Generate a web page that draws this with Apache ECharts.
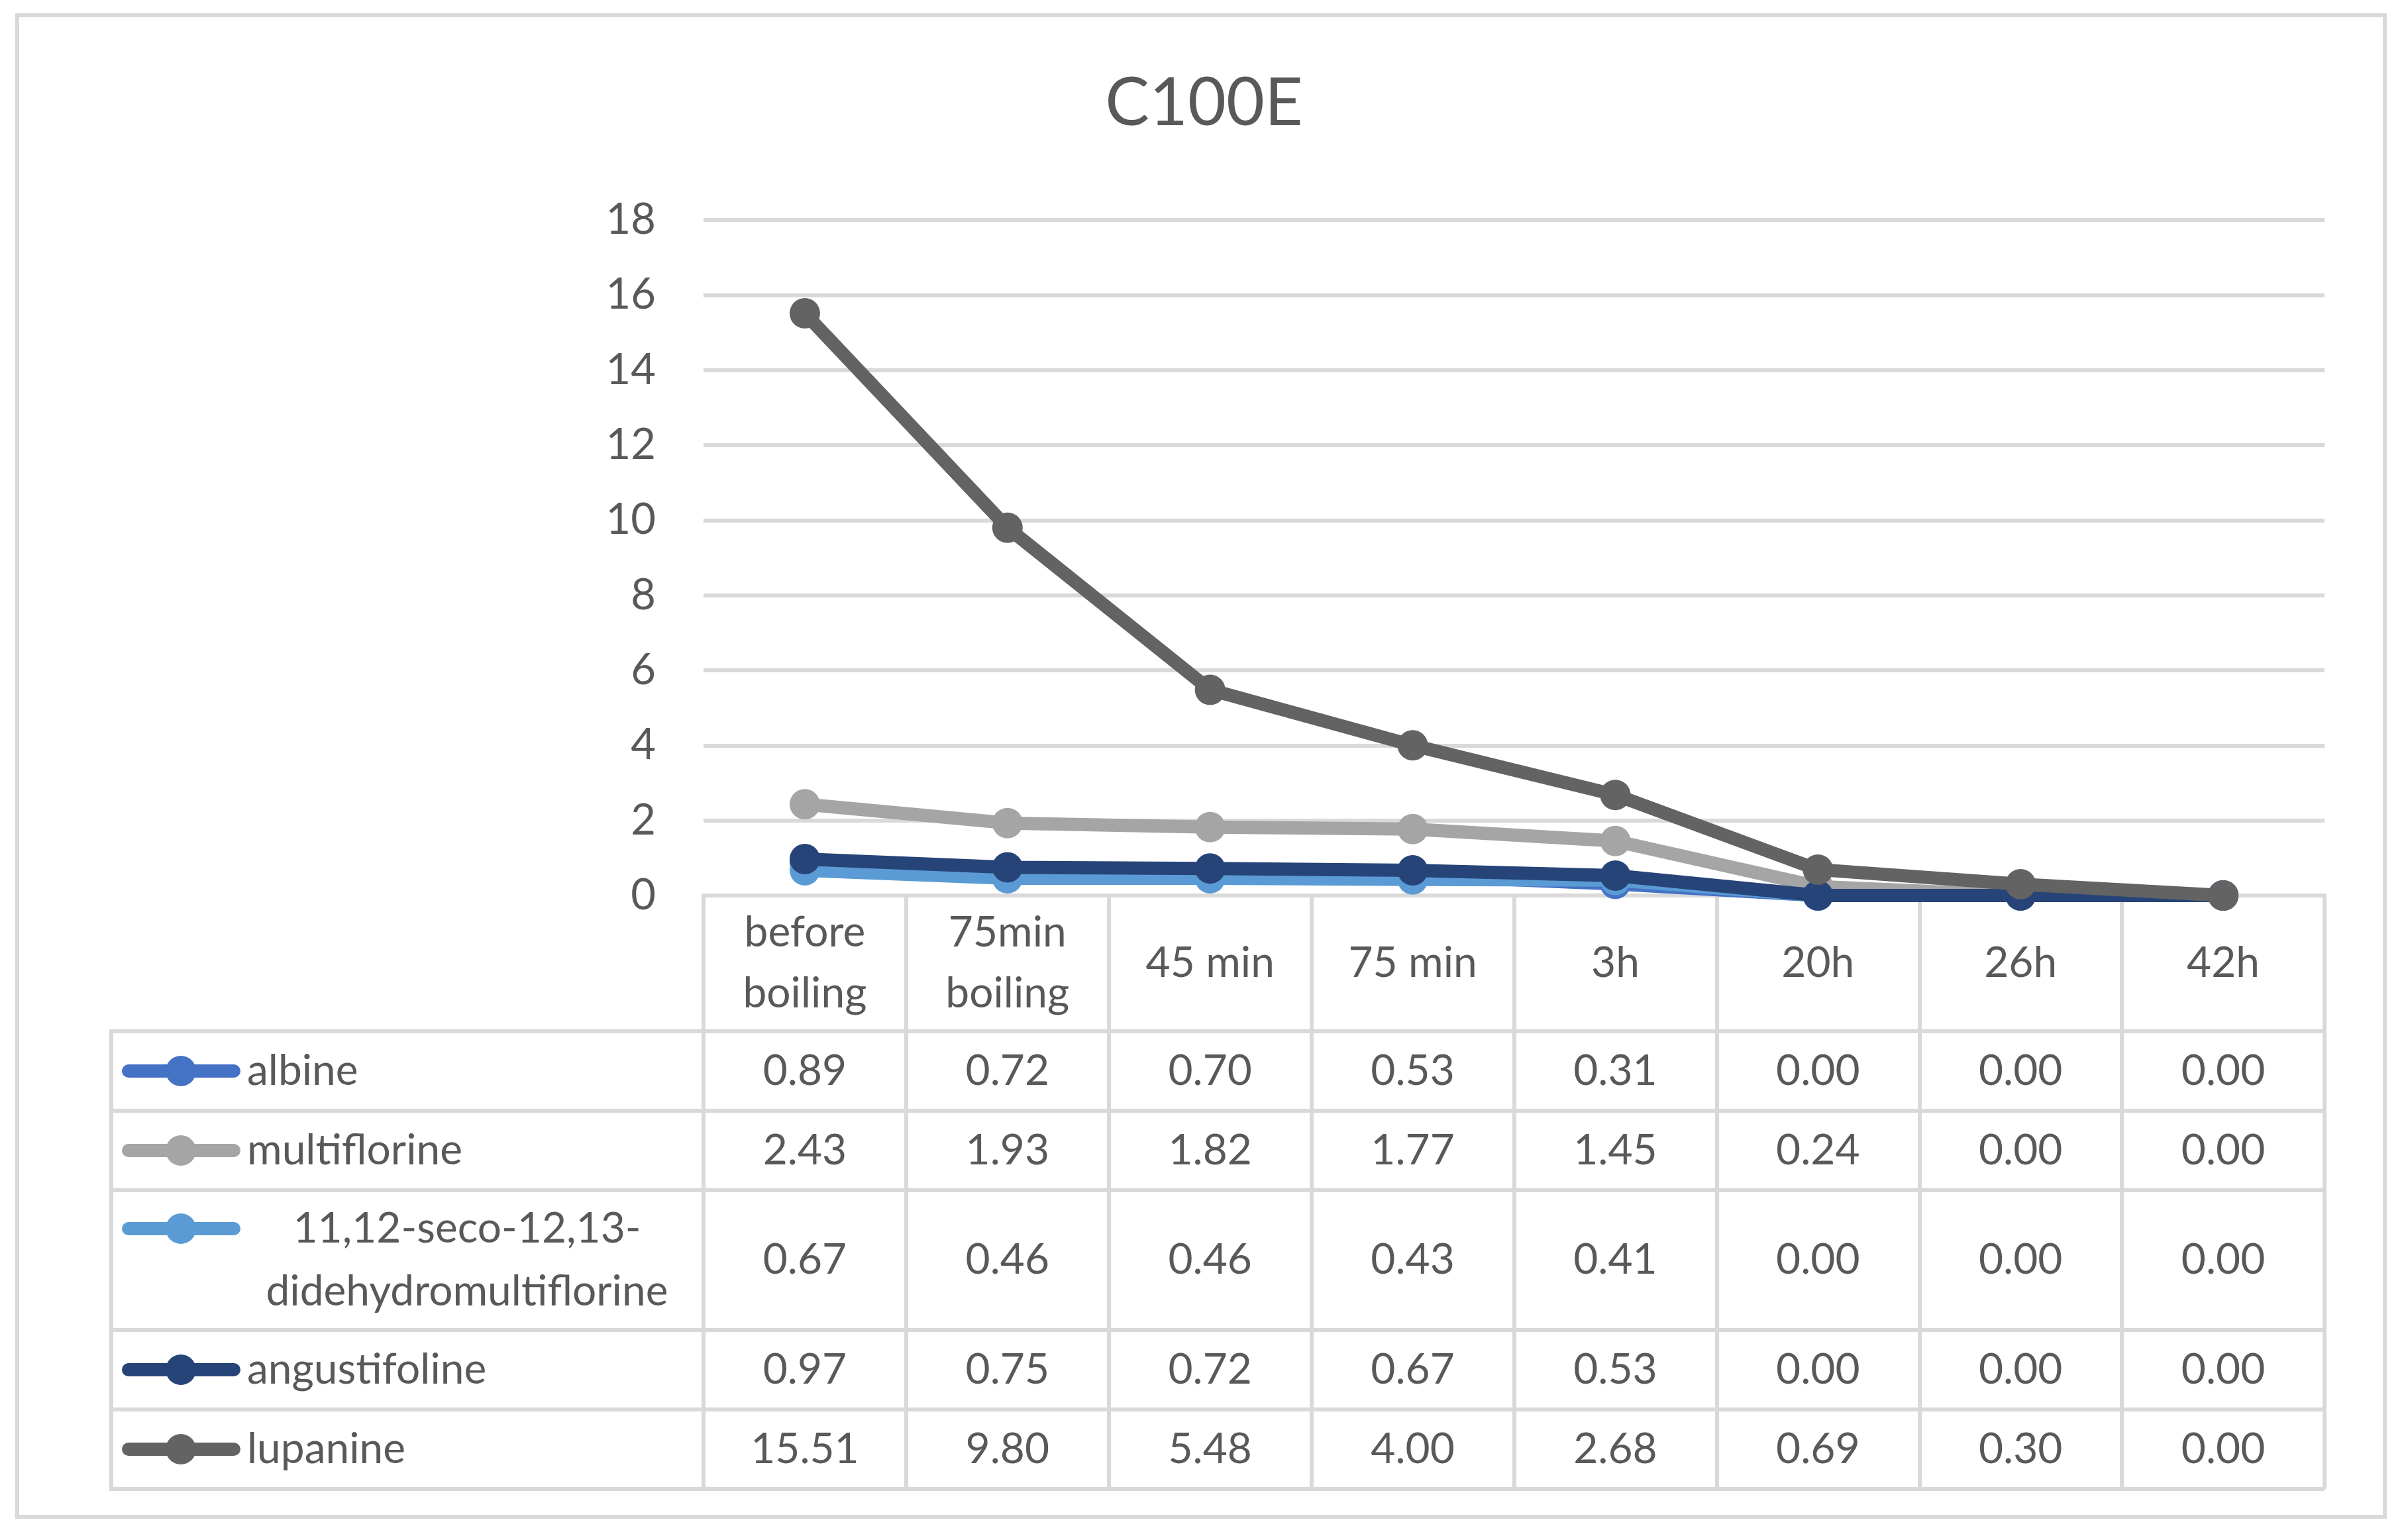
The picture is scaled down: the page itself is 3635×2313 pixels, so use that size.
<!DOCTYPE html>
<html>
<head>
<meta charset="utf-8">
<script src="https://cdn.jsdelivr.net/npm/echarts@6/dist/echarts.min.js"></script>
<style>
html,body{margin:0;padding:0;background:#fff;}
#c{width:3635px;height:2313px;}
</style>
</head>
<body>
<div id="c"></div>
<script>
// ---- data ----
const title = 'C100E';
const categories = ['before\nboiling', '75min\nboiling', '45 min', '75 min', '3h', '20h', '26h', '42h'];
const seriesNames = ['albine', 'multiflorine', '11,12-seco-12,13-\ndidehydromultiflorine', 'angustifoline', 'lupanine'];
const albine = [0.89, 0.72, 0.70, 0.53, 0.31, 0.00, 0.00, 0.00];
const multiflorine = [2.43, 1.93, 1.82, 1.77, 1.45, 0.24, 0.00, 0.00];
const seco = [0.67, 0.46, 0.46, 0.43, 0.41, 0.00, 0.00, 0.00];
const angustifoline = [0.97, 0.75, 0.72, 0.67, 0.53, 0.00, 0.00, 0.00];
const lupanine = [15.51, 9.80, 5.48, 4.00, 2.68, 0.69, 0.30, 0.00];
const yTicks = [0, 2, 4, 6, 8, 10, 12, 14, 16, 18];

// ---- style / layout ----
const seriesData = [albine, multiflorine, seco, angustifoline, lupanine];
const colors = ['#4472C4', '#A5A5A5', '#5B9BD5', '#264478', '#636363'];
const FONT = 'Lato';
const TXT = '#595959';
const GRIDC = '#D9D9D9';
const gLeft = 1062, gRightX = 3509, gTop = 332, axisY = 1352;
const headerH = 205;
const rowH = [120, 120, 211, 120, 120];
const tableLeft = 168;

const rowTops = [];
let acc = axisY + headerH;
rowH.forEach(h => { rowTops.push(acc); acc += h; });
const tableBottom = acc;

const xAxes = [{
  type: 'category',
  data: categories,
  boundaryGap: true,
  position: 'bottom',
  axisLine: { show: true, lineStyle: { color: GRIDC, width: 6 } },
  axisTick: { show: true, interval: 0, length: tableBottom - axisY, lineStyle: { color: GRIDC, width: 6 } },
  axisLabel: { interval: 0, color: TXT, fontFamily: FONT, fontSize: 64, lineHeight: 92, margin: headerH / 2, verticalAlign: 'middle' },
  splitLine: { show: false }
}];
seriesData.forEach((arr, i) => {
  xAxes.push({
    type: 'category',
    data: categories,
    boundaryGap: true,
    position: 'bottom',
    offset: rowTops[i] + rowH[i] / 2 - axisY,
    axisLine: { show: false },
    axisTick: { show: false },
    splitLine: { show: false },
    axisLabel: {
      interval: 0, color: TXT, fontFamily: FONT, fontSize: 64, margin: 0, verticalAlign: 'middle',
      formatter: (v, idx) => arr[idx].toFixed(2)
    }
  });
});

const graphics = [];
// outer border
graphics.push({ type: 'rect', shape: { x: 26, y: 23, width: 3574, height: 2267 }, style: { fill: 'none', stroke: GRIDC, lineWidth: 6 }, z: 0 });
// horizontal table lines
graphics.push({ type: 'line', shape: { x1: tableLeft, y1: axisY + headerH, x2: gRightX, y2: axisY + headerH }, style: { stroke: GRIDC, lineWidth: 6 } });
rowTops.forEach((t, i) => {
  const y = t + rowH[i];
  graphics.push({ type: 'line', shape: { x1: tableLeft, y1: y, x2: gRightX, y2: y }, style: { stroke: GRIDC, lineWidth: 6 } });
});
// left vertical
graphics.push({ type: 'line', shape: { x1: tableLeft, y1: axisY + headerH - 3, x2: tableLeft, y2: tableBottom + 3 }, style: { stroke: GRIDC, lineWidth: 6 } });
// legend keys
seriesNames.forEach((name, i) => {
  const multi = name.indexOf('\n') >= 0;
  const lh = 95;
  const yc = rowTops[i] + rowH[i] / 2;
  const iy = multi ? yc - lh / 2 : yc;
  graphics.push({ type: 'line', shape: { x1: 194, y1: iy, x2: 353, y2: iy }, style: { stroke: colors[i], lineWidth: 20, lineCap: 'round' }, z: 10 });
  graphics.push({ type: 'circle', shape: { cx: 273, cy: iy, r: 23 }, style: { fill: colors[i] }, z: 11 });
  graphics.push({
    type: 'text', z: 11,
    style: multi
      ? { text: name, x: 705, y: yc, align: 'center', verticalAlign: 'middle', fontFamily: FONT, fontSize: 64, lineHeight: lh, fill: TXT }
      : { text: name, x: 373, y: yc, align: 'left', verticalAlign: 'middle', fontFamily: FONT, fontSize: 64, fill: TXT }
  });
});

const chart = echarts.init(document.getElementById('c'));
chart.setOption({
  backgroundColor: '#fff',
  animation: false,
  title: {
    text: title, left: 'center', top: 102,
    textStyle: { color: TXT, fontFamily: FONT, fontSize: 100, fontWeight: 'normal' }
  },
  grid: { left: gLeft, top: gTop, width: gRightX - gLeft, height: axisY - gTop, containLabel: false },
  xAxis: xAxes,
  yAxis: {
    type: 'value', min: yTicks[0], max: yTicks[yTicks.length - 1], interval: yTicks[1] - yTicks[0],
    axisLine: { show: false }, axisTick: { show: false },
    axisLabel: { color: TXT, fontFamily: FONT, fontSize: 65, margin: 72 },
    splitLine: { lineStyle: { color: GRIDC, width: 6 } }
  },
  series: seriesData.map((arr, i) => ({
    name: seriesNames[i].replace('\n', ''),
    type: 'line',
    data: arr,
    xAxisIndex: 0,
    symbol: 'circle',
    symbolSize: 46,
    clip: false,
    lineStyle: { color: colors[i], width: 20, join: 'round', cap: 'round' },
    itemStyle: { color: colors[i] },
    z: 3 + i
  })),
  graphic: graphics
});
</script>
</body>
</html>
